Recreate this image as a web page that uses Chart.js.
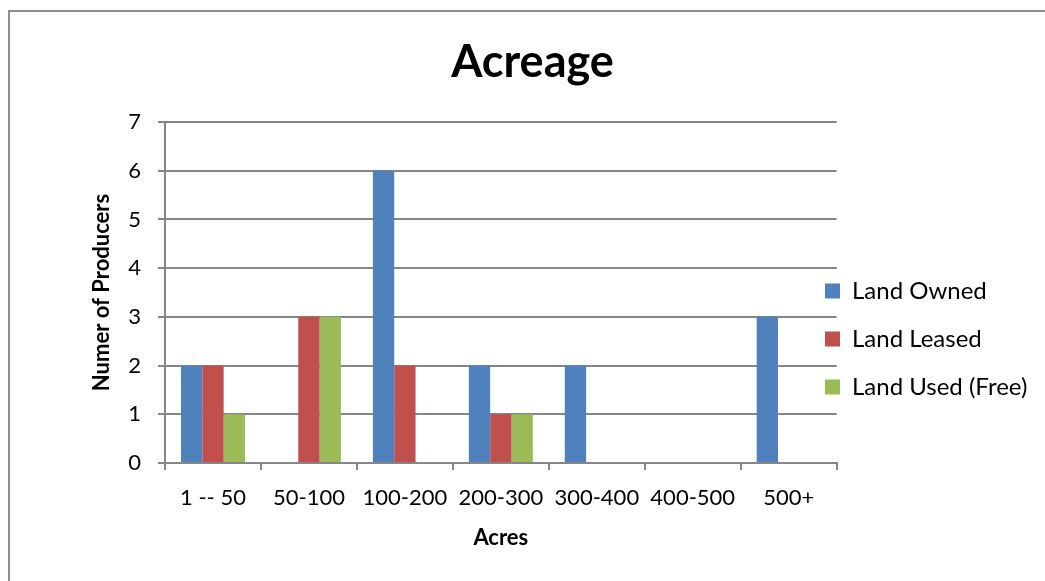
<!DOCTYPE html>
<html>
<head>
<meta charset="utf-8">
<script src="https://cdn.jsdelivr.net/npm/chart.js@4"></script>
<style>
  html, body { margin: 0; padding: 0; background: #fff; }
  #frame { position: absolute; left: 8px; top: 10px; width: 1100px; height: 620px; border: 2px solid #8e8e8e; }
  #wrap { position: absolute; left: 0; top: 0; width: 1045px; height: 581px; }
</style>
</head>
<body>
<div id="frame"></div>
<div id="wrap"><canvas id="chartId"></canvas></div>
<script>
// Acreage - bar chart

const categories = ['1 -- 50', '50-100', '100-200', '200-300', '300-400', '400-500', '500+'];
const landOwned = [2, 0, 6, 2, 2, 0, 3];
const landLeased = [2, 3, 2, 1, 0, 0, 0];
const landUsedFree = [1, 3, 0, 1, 0, 0, 0];
const yTicks = [0, 1, 2, 3, 4, 5, 6, 7];

const FONT = 'Lato, "Open Sans", sans-serif';
const GRID = '#868686';

// move legend to where the reference has it
const legendPlace = {
  id: 'legendPlace',
  afterLayout(chart) {
    const lg = chart.legend;
    const w = lg.width;
    lg.left = 801;
    lg.right = lg.left + w;
    const h = lg.height;
    lg.top = 255;
    lg.bottom = lg.top + h;
  }
};

var chrt = document.getElementById('chartId').getContext('2d');
var chartId = new Chart(chrt, {
  type: 'bar',
  data: {
    labels: categories,
    datasets: [
      { label: 'Land Owned', data: landOwned, backgroundColor: '#4F81BD' },
      { label: 'Land Leased', data: landLeased, backgroundColor: '#C0504D' },
      { label: 'Land Used (Free)', data: landUsedFree, backgroundColor: '#9BBB59' }
    ]
  },
  options: {
    responsive: true,
    maintainAspectRatio: false,
    animation: false,
    layout: { padding: { left: -8, right: -28, top: 0, bottom: 30 } },
    datasets: { bar: { barPercentage: 1, categoryPercentage: 0.667 } },
    plugins: {
      title: {
        display: true,
        text: 'Acreage',
        color: '#000',
        font: { family: FONT, size: 45, weight: 'bold' },
        padding: { top: 35, bottom: 33 }
      },
      legend: {
        position: 'right',
        align: 'start',
        labels: {
          color: '#000',
          font: { family: FONT, size: 24 },
          boxWidth: 15,
          boxHeight: 15,
          padding: 24
        }
      },
      tooltip: { enabled: false }
    },
    scales: {
      x: {
        grid: { offset: true, drawOnChartArea: false, color: GRID, lineWidth: 2, tickLength: 7 },
        border: { color: GRID, width: 2 },
        ticks: { color: '#000', font: { family: FONT, size: 22 }, maxRotation: 0, autoSkip: false, padding: 15 },
        title: { display: true, text: 'Acres', color: '#000', font: { family: FONT, size: 22, weight: 'bold' }, padding: 0 },
        afterFit(scale) { scale.height = 88; }
      },
      y: {
        min: 0,
        max: 7,
        afterBuildTicks(scale) { scale.ticks = yTicks.map(v => ({ value: v })); },
        grid: { color: GRID, lineWidth: 2, tickLength: 7 },
        border: { color: GRID, width: 2 },
        ticks: { color: '#000', font: { family: FONT, size: 22 }, padding: 17 },
        title: { display: true, text: 'Numer of Producers', color: '#000', font: { family: FONT, size: 22, weight: 'bold' }, padding: { top: 97, bottom: 0 } },
        afterFit(scale) { scale.width = 173; }
      }
    }
  },
  plugins: [legendPlace]
});
</script>
</body>
</html>
